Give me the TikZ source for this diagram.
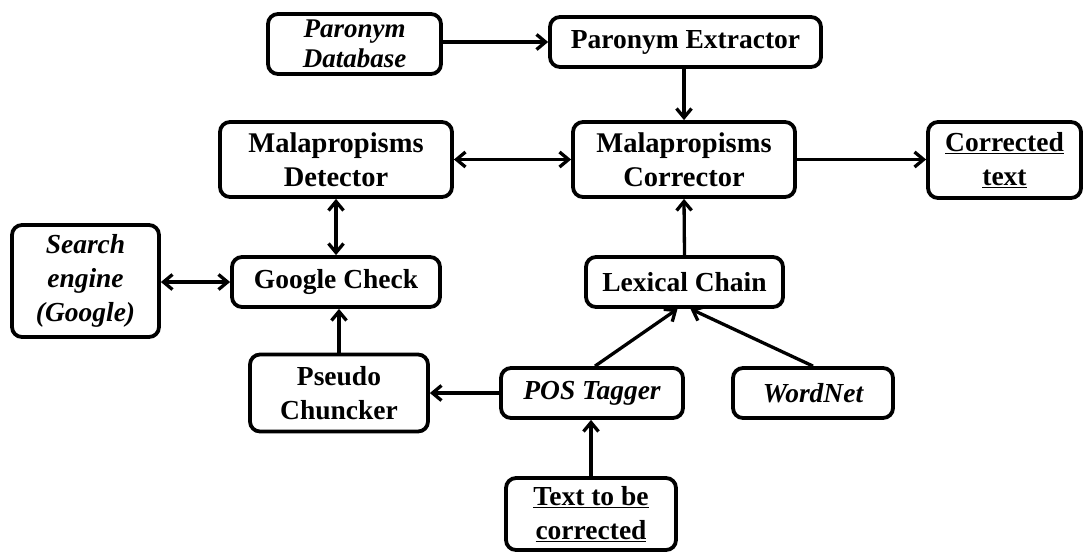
\documentclass[tikz,border=0pt]{standalone}
\usepackage{fontspec}
\setmainfont{Liberation Serif}
\usetikzlibrary{arrows.meta}
\begin{document}
\begin{tikzpicture}[x=1pt,y=-1pt,
  box/.style={draw, line width=3.8pt, rounded corners=10pt, align=center, inner sep=0pt,
    font=\fontsize{27.5}{34}\selectfont\bfseries},
  itbox/.style={box, font=\fontsize{27.5}{34}\selectfont\bfseries\itshape},
  bfbox/.style={box, font=\fontsize{28.5}{34}\selectfont\bfseries},
  arr/.style={line width=3.3pt, -{Straight Barb[length=9pt,width=15pt]}},
  darr/.style={line width=3.3pt, {Straight Barb[length=9pt,width=15pt]}-{Straight Barb[length=9pt,width=15pt]}}]
\useasboundingbox (0,0) rectangle (1083,552);
\fill[white] (0,0) rectangle (1083,552);

\node[itbox, font=\fontsize{27}{30}\selectfont\bfseries\itshape, minimum width=173pt, minimum height=60pt] (pdb) at (354.5,44) {Paronym\\Database};
\node[box, minimum width=271pt, minimum height=50pt] (pe) at (685.5,42) {Paronym Extractor};
\node[bfbox, minimum width=232pt, minimum height=75pt] (det) at (336,159.5) {Malapropisms\\Detector};
\node[bfbox, minimum width=222pt, minimum height=75pt] (cor) at (684,159.5) {Malapropisms\\Corrector};
\node[box, minimum width=153pt, minimum height=76pt] (ct) at (1004.5,160) {\underline{Corrected}\\\underline{text}};
\node[itbox, minimum width=147pt, minimum height=112pt] (se) at (85.5,281) {Search\\engine\\(Google)};
\node[box, minimum width=208pt, minimum height=50pt] (gc) at (336,282) {Google Check};
\node[box, minimum width=197pt, minimum height=50pt] (lc) at (684.5,282) {Lexical Chain};
\node[box, minimum width=178pt, minimum height=77pt] (ps) at (339,393) {Pseudo\\Chuncker};
\node[itbox, minimum width=182pt, minimum height=50pt] (pos) at (592,393) {POS Tagger};
\node[itbox, minimum width=160pt, minimum height=50pt] (wn) at (813,393) {WordNet};
\node[box, minimum width=170pt, minimum height=72pt] (tbc) at (591,514) {\underline{Text to be}\\\underline{corrected}};

\draw[arr] (pdb.east |- pe) -- (pe.west);
\draw[arr] (cor.north |- pe.south) -- (cor.north);
\draw[darr] (det.east) -- (cor.west);
\draw[arr] (cor.east) -- (cor.east -| ct.west);
\draw[darr] (det.south) -- (gc.north);
\draw[darr] (se.east |- gc) -- (gc.west);
\draw[arr] (ps.north) -- (ps.north |- gc.south);
\draw[arr] (pos.west) -- (pos.west -| ps.east);
\draw[arr] ([xshift=3pt]pos.north) -- ([xshift=-7pt]lc.south);
\draw[arr] (wn.north) -- ([xshift=6pt]lc.south);
\draw[arr] (tbc.north) -- (tbc.north |- pos.south);
\draw[arr] (lc.north) -- (cor.south);
\end{tikzpicture}
\end{document}
